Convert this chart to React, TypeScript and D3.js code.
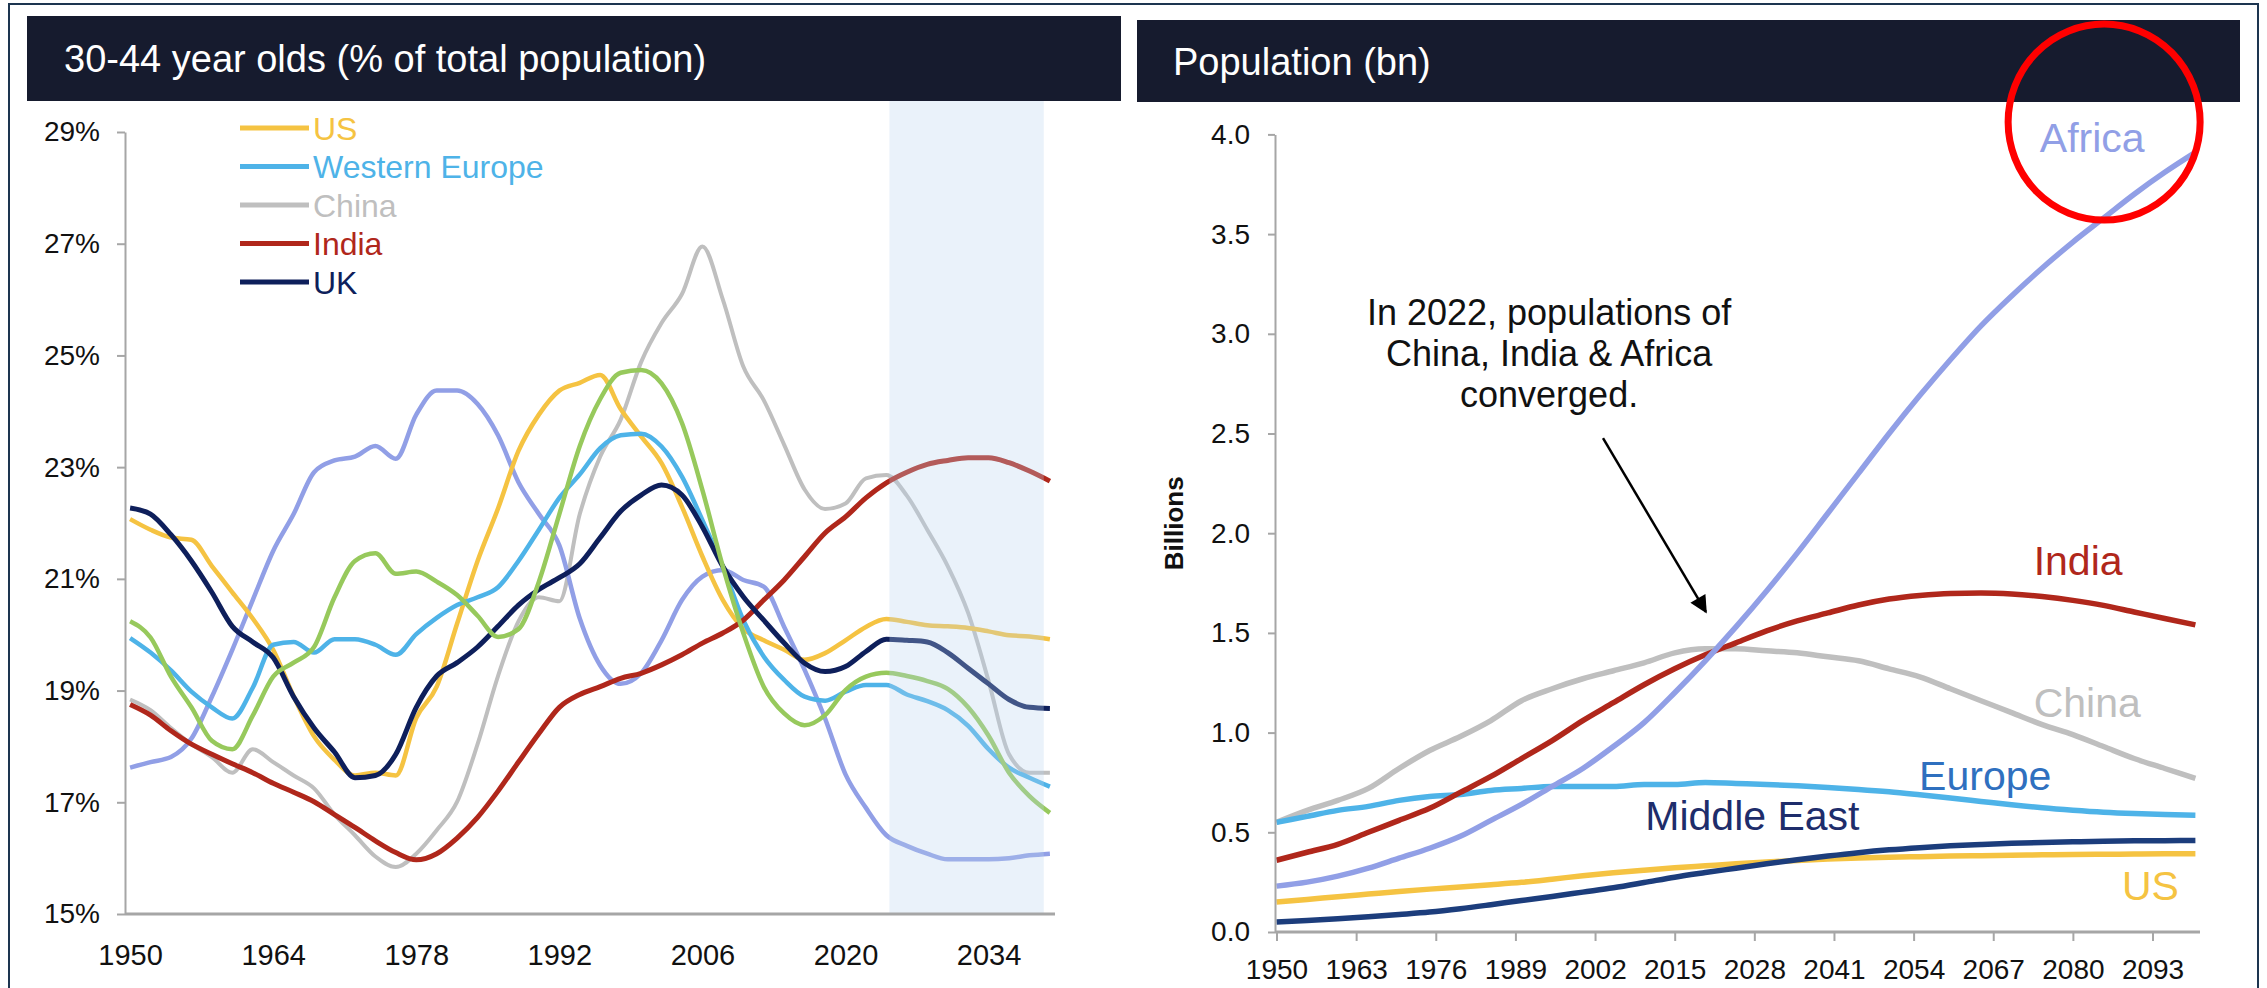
import React, { useEffect, useRef } from 'react';
import * as d3 from 'd3';

// ---- left chart: 30-44 year olds as % of total population ----
const leftYears = d3.range(1950, 2041, 2);

const usShare = [22.07, 21.88, 21.74, 21.7, 21.23, 20.76, 20.29, 19.73, 18.9, 18.18,
  17.76, 17.48, 17.53, 17.48, 18.51, 19.07, 20.2, 21.32, 22.26, 23.29,
  23.94, 24.37, 24.51, 24.65, 24.04, 23.55, 23.07, 22.29, 21.4, 20.62,
  20.11, 19.9, 19.73, 19.55, 19.67, 19.9, 20.14, 20.28, 20.23, 20.17,
  20.15, 20.12, 20.06, 19.99, 19.97, 19.92];
const westEuropeShare = [19.94, 19.68, 19.36, 18.98, 18.7, 18.5, 19.05, 19.82, 19.87, 19.68,
  19.92, 19.92, 19.82, 19.64, 20.01, 20.3, 20.53, 20.67, 20.85, 21.32,
  21.88, 22.45, 22.87, 23.34, 23.57, 23.6, 23.37, 22.83, 22.05, 21.22,
  20.26, 19.61, 19.19, 18.89, 18.82, 18.98, 19.1, 19.1, 18.93, 18.81,
  18.65, 18.37, 17.95, 17.62, 17.44, 17.28];
const chinaShare = [18.84, 18.65, 18.33, 18.04, 17.81, 17.53, 17.95, 17.72, 17.48, 17.25,
  16.78, 16.41, 16.03, 15.84, 16.08, 16.5, 17.01, 18.04, 19.26, 20.24,
  20.67, 20.6, 22.16, 23.19, 23.85, 24.88, 25.58, 26.1, 26.95, 26.0,
  24.8, 24.2, 23.4, 22.6, 22.25, 22.35, 22.8, 22.86, 22.49, 21.88,
  21.23, 20.39, 19.17, 17.86, 17.53, 17.53];
const indiaShare = [18.75, 18.56, 18.28, 18.04, 17.86, 17.69, 17.53, 17.34, 17.18, 17.01,
  16.78, 16.55, 16.31, 16.1, 15.97, 16.08, 16.36, 16.73, 17.2, 17.72,
  18.23, 18.7, 18.93, 19.07, 19.22, 19.31, 19.46, 19.64, 19.85, 20.03,
  20.26, 20.62, 20.98, 21.4, 21.82, 22.11, 22.45, 22.72, 22.91, 23.05,
  23.12, 23.17, 23.17, 23.08, 22.93, 22.75];
const ukShare = [22.27, 22.16, 21.79, 21.32, 20.76, 20.15, 19.87, 19.59, 18.89, 18.33,
  17.9, 17.44, 17.48, 17.86, 18.7, 19.26, 19.5, 19.78, 20.15, 20.53,
  20.81, 21.02, 21.27, 21.74, 22.21, 22.5, 22.68, 22.5, 21.93, 21.22,
  20.68, 20.26, 19.85, 19.49, 19.34, 19.43, 19.7, 19.92, 19.9, 19.87,
  19.68, 19.4, 19.12, 18.84, 18.7, 18.68];
// two unlabelled series in the original
const lavenderShare = [17.62, 17.72, 17.81, 18.14, 18.89, 19.73, 20.62, 21.5, 22.16, 22.91,
  23.12, 23.19, 23.38, 23.15, 23.94, 24.37, 24.37, 24.13, 23.57, 22.73,
  22.16, 21.6, 20.29, 19.45, 19.12, 19.31, 19.9, 20.62, 21.04, 21.16,
  20.98, 20.86, 20.14, 19.37, 18.5, 17.5, 16.9, 16.41, 16.22, 16.08,
  15.98, 15.98, 15.98, 16.0, 16.05, 16.08];
const greenShare = [20.24, 19.95, 19.25, 18.7, 18.1, 17.95, 18.55, 19.25, 19.5, 19.78,
  20.67, 21.32, 21.46, 21.09, 21.13, 20.95, 20.71, 20.34, 19.96, 20.1,
  20.95, 22.16, 23.38, 24.22, 24.69, 24.74, 24.5, 23.79, 22.59, 21.22,
  20.03, 19.07, 18.59, 18.38, 18.56, 19.01, 19.25, 19.32, 19.26, 19.17,
  19.03, 18.7, 18.19, 17.53, 17.11, 16.81];

const leftYTicks = [15, 17, 19, 21, 23, 25, 27, 29];
const leftXTicks = [1950, 1964, 1978, 1992, 2006, 2020, 2034];
const forecastSpan = [2024.3, 2039.4];

// ---- right chart: population in billions ----
const rightYears = d3.range(1950, 2101, 5);

const africaPop = [0.23, 0.25, 0.28, 0.32, 0.37, 0.42, 0.48, 0.56, 0.64, 0.73,
  0.82, 0.93, 1.05, 1.2, 1.36, 1.53, 1.71, 1.9, 2.1, 2.3,
  2.5, 2.69, 2.87, 3.04, 3.19, 3.33, 3.46, 3.58, 3.7, 3.81, 3.91];
const indiaPop = [0.36, 0.4, 0.44, 0.5, 0.56, 0.62, 0.7, 0.78, 0.87, 0.96,
  1.06, 1.15, 1.24, 1.32, 1.39, 1.45, 1.51, 1.56, 1.6, 1.64,
  1.67, 1.688, 1.698, 1.7, 1.695, 1.682, 1.663, 1.638, 1.605, 1.572, 1.54];
const chinaPop = [0.55, 0.61, 0.66, 0.72, 0.82, 0.91, 0.98, 1.06, 1.16, 1.22,
  1.27, 1.31, 1.35, 1.4, 1.42, 1.42, 1.41, 1.4, 1.38, 1.36,
  1.32, 1.28, 1.22, 1.16, 1.1, 1.04, 0.99, 0.93, 0.87, 0.82, 0.77];
const europePop = [0.55, 0.58, 0.61, 0.63, 0.66, 0.68, 0.69, 0.71, 0.72, 0.73,
  0.73, 0.73, 0.74, 0.74, 0.75, 0.745, 0.74, 0.733, 0.725, 0.715,
  0.703, 0.688, 0.672, 0.655, 0.638, 0.623, 0.611, 0.601, 0.594, 0.589, 0.586];
const middleEastPop = [0.05, 0.058, 0.067, 0.077, 0.088, 0.1, 0.117, 0.137, 0.158, 0.178,
  0.2, 0.222, 0.248, 0.275, 0.298, 0.32, 0.342, 0.362, 0.381, 0.398,
  0.412, 0.423, 0.432, 0.439, 0.445, 0.449, 0.452, 0.455, 0.457, 0.458, 0.459];
const usPop = [0.15, 0.163, 0.177, 0.19, 0.203, 0.215, 0.226, 0.237, 0.249, 0.265,
  0.282, 0.297, 0.31, 0.322, 0.332, 0.342, 0.351, 0.359, 0.366, 0.371,
  0.375, 0.378, 0.381, 0.383, 0.385, 0.387, 0.389, 0.39, 0.391, 0.392, 0.392];

const rightYTicks = d3.range(0, 4.01, 0.5);
const rightXTicks = d3.range(1950, 2100, 13);

const FONT = "'Liberation Sans', Arial, Helvetica, sans-serif";
const HEADER = '#161b2e';
const AXIS = '#a6a6a6';

const C = {
  us: '#f5c342',
  we: '#4eb3e8',
  china: '#bfbfbf',
  india: '#b0271b',
  uk: '#0e1f5b',
  lavender: '#919fe6',
  green: '#97c95c',
  me: '#1c3d7c',
};

const App = () => {
  const ref = useRef<SVGSVGElement>(null);

  useEffect(() => {
    const svg = d3.select(ref.current);
    svg.selectAll('*').remove();
    svg.style('font-family', FONT);

    svg.append('rect').attr('width', 2267).attr('height', 988).attr('fill', '#fff');
    svg.append('rect')
      .attr('x', 9).attr('y', 4).attr('width', 2249).attr('height', 1000)
      .attr('fill', 'none').attr('stroke', '#1d3550').attr('stroke-width', 2);

    // headers
    svg.append('rect').attr('x', 27).attr('y', 16).attr('width', 1094).attr('height', 85).attr('fill', HEADER);
    svg.append('rect').attr('x', 1137).attr('y', 20).attr('width', 1103).attr('height', 82).attr('fill', HEADER);
    svg.append('text').attr('x', 64).attr('y', 72).attr('fill', '#fff').attr('font-size', 38)
      .text('30-44 year olds (% of total population)');
    svg.append('text').attr('x', 1173).attr('y', 75).attr('fill', '#fff').attr('font-size', 38)
      .text('Population (bn)');

    // ---------- left chart ----------
    const x = d3.scaleLinear().domain([1950, 2040]).range([130.1, 1049.9]);
    const y = d3.scaleLinear().domain([15, 29]).range([914, 132]);
    const left = svg.append('g');

    const leftSeries = [
      { values: chinaShare, color: C.china, width: 4 },
      { values: lavenderShare, color: C.lavender, width: 4.5 },
      { values: usShare, color: C.us, width: 4.5 },
      { values: westEuropeShare, color: C.we, width: 4.5 },
      { values: indiaShare, color: C.india, width: 5 },
      { values: ukShare, color: C.uk, width: 5 },
      { values: greenShare, color: C.green, width: 4.5 },
    ];
    const leftLine = d3.line<number>()
      .x((d, i) => x(leftYears[i]))
      .y(d => y(d))
      .curve(d3.curveMonotoneX);

    leftSeries.forEach(s => {
      left.append('path')
        .datum(s.values)
        .attr('fill', 'none')
        .attr('stroke', s.color)
        .attr('stroke-width', s.width)
        .attr('stroke-linejoin', 'round')
        .attr('d', leftLine);
    });

    // forecast shading sits over the lines, slightly washing them out
    left.append('rect')
      .attr('x', x(forecastSpan[0]))
      .attr('y', 101)
      .attr('width', x(forecastSpan[1]) - x(forecastSpan[0]))
      .attr('height', 914 - 101)
      .attr('fill', 'rgb(185,212,238)')
      .attr('opacity', 0.3);

    const yAxisL = left.append('g')
      .attr('transform', 'translate(125,0)')
      .call(d3.axisLeft(y).tickValues(leftYTicks).tickSize(8).tickSizeOuter(0).tickPadding(17).tickFormat(d => `${d}%`));
    yAxisL.selectAll('path, line').attr('stroke', AXIS).attr('stroke-width', 2);
    yAxisL.selectAll('text').attr('font-size', 28).attr('fill', '#111').attr('font-family', FONT);

    const xAxisL = left.append('g')
      .attr('transform', 'translate(0,914)')
      .call(d3.axisBottom(x).tickValues(leftXTicks).tickSize(0).tickPadding(30).tickFormat(d3.format('d')));
    xAxisL.select('.domain').remove();
    xAxisL.selectAll('text').attr('font-size', 29).attr('fill', '#111').attr('font-family', FONT);
    left.append('line').attr('x1', 125).attr('x2', 1055).attr('y1', 914).attr('y2', 914)
      .attr('stroke', AXIS).attr('stroke-width', 3);

    // legend
    const legendItems = [
      { name: 'US', color: C.us },
      { name: 'Western Europe', color: C.we },
      { name: 'China', color: C.china },
      { name: 'India', color: C.india },
      { name: 'UK', color: C.uk },
    ];
    legendItems.forEach((d, i) => {
      const ly = 128 + i * 38.5;
      left.append('line').attr('x1', 240).attr('x2', 309).attr('y1', ly).attr('y2', ly)
        .attr('stroke', d.color).attr('stroke-width', 5);
      left.append('text').attr('x', 313).attr('y', ly).attr('dy', '0.36em')
        .attr('font-size', 32).attr('fill', d.color).text(d.name);
    });

    // ---------- right chart ----------
    const rx = d3.scaleLinear().domain([1950, 2100]).range([1276.5, 2195.4]);
    const ry = d3.scaleLinear().domain([0, 4]).range([932, 134.4]);
    const right = svg.append('g');

    const rightSeries = [
      { values: chinaPop, color: C.china },
      { values: europePop, color: C.we },
      { values: usPop, color: C.us },
      { values: middleEastPop, color: C.me },
      { values: indiaPop, color: C.india },
      { values: africaPop, color: C.lavender },
    ];
    const rightLine = d3.line<number>()
      .x((d, i) => rx(rightYears[i]))
      .y(d => ry(d))
      .curve(d3.curveMonotoneX);

    rightSeries.forEach(s => {
      right.append('path')
        .datum(s.values)
        .attr('fill', 'none')
        .attr('stroke', s.color)
        .attr('stroke-width', 5.5)
        .attr('stroke-linejoin', 'round')
        .attr('d', rightLine);
    });

    const yAxisR = right.append('g')
      .attr('transform', 'translate(1275,0)')
      .call(d3.axisLeft(ry).tickValues(rightYTicks).tickSize(7).tickSizeOuter(0).tickPadding(18).tickFormat(d3.format('.1f')));
    yAxisR.selectAll('path, line').attr('stroke', AXIS).attr('stroke-width', 2);
    yAxisR.selectAll('text').attr('font-size', 28).attr('fill', '#111').attr('font-family', FONT);

    const xAxisR = right.append('g')
      .attr('transform', 'translate(0,932)')
      .call(d3.axisBottom(rx).tickValues(rightXTicks).tickSize(9).tickPadding(18).tickFormat(d3.format('d')));
    xAxisR.select('.domain').remove();
    xAxisR.selectAll('line').attr('stroke', AXIS).attr('stroke-width', 2);
    xAxisR.selectAll('text').attr('font-size', 28).attr('fill', '#111').attr('font-family', FONT);
    right.append('line').attr('x1', 1275).attr('x2', 2200).attr('y1', 932).attr('y2', 932)
      .attr('stroke', AXIS).attr('stroke-width', 3);

    right.append('text')
      .attr('transform', `translate(1183,${(ry(2.3) + ry(1.8)) / 2}) rotate(-90)`)
      .attr('text-anchor', 'middle')
      .attr('font-size', 26).attr('font-weight', 'bold').attr('fill', '#111')
      .text('Billions');

    // series labels, anchored in data space
    const seriesLabels = [
      { name: 'Africa', color: C.lavender, year: 2074.6, value: 3.91 },
      { name: 'India', color: C.india, year: 2073.6, value: 1.79 },
      { name: 'China', color: C.china, year: 2073.6, value: 1.08 },
      { name: 'Europe', color: '#2f70bf', year: 2054.9, value: 0.71 },
      { name: 'Middle East', color: '#1e2d6b', year: 2010.2, value: 0.51 },
      { name: 'US', color: C.us, year: 2088, value: 0.16 },
    ];
    seriesLabels.forEach(d => {
      right.append('text').attr('x', rx(d.year)).attr('y', ry(d.value))
        .attr('font-size', 41).attr('fill', d.color).text(d.name);
    });

    // annotation + arrow
    const note = right.append('text')
      .attr('text-anchor', 'middle').attr('font-size', 36).attr('fill', '#111');
    ['In 2022, populations of', 'China, India & Africa', 'converged.'].forEach((t, i) => {
      note.append('tspan').attr('x', rx(1994.5)).attr('y', ry(3.044) + i * 41).text(t);
    });

    svg.append('defs').append('marker')
      .attr('id', 'arrowHead')
      .attr('viewBox', '0 0 10 10')
      .attr('refX', 9).attr('refY', 5)
      .attr('markerWidth', 8).attr('markerHeight', 7)
      .attr('orient', 'auto')
      .append('path').attr('d', 'M0,0 L10,5 L0,10 z').attr('fill', '#000');

    right.append('line')
      .attr('x1', rx(2003.3)).attr('y1', ry(2.477))
      .attr('x2', rx(2020.1)).attr('y2', ry(1.605))
      .attr('stroke', '#000').attr('stroke-width', 2.5)
      .attr('marker-end', 'url(#arrowHead)');

    // highlight ring around Africa's 2100 level
    svg.append('ellipse')
      .attr('cx', rx(2085.1)).attr('cy', ry(4.062))
      .attr('rx', 96).attr('ry', 98)
      .attr('fill', 'none').attr('stroke', '#ff0000').attr('stroke-width', 7);
  }, []);

  return (
    <svg ref={ref} width={2267} height={988} style={{ position: 'absolute', left: 0, top: 0 }} />
  );
};

export default App;
